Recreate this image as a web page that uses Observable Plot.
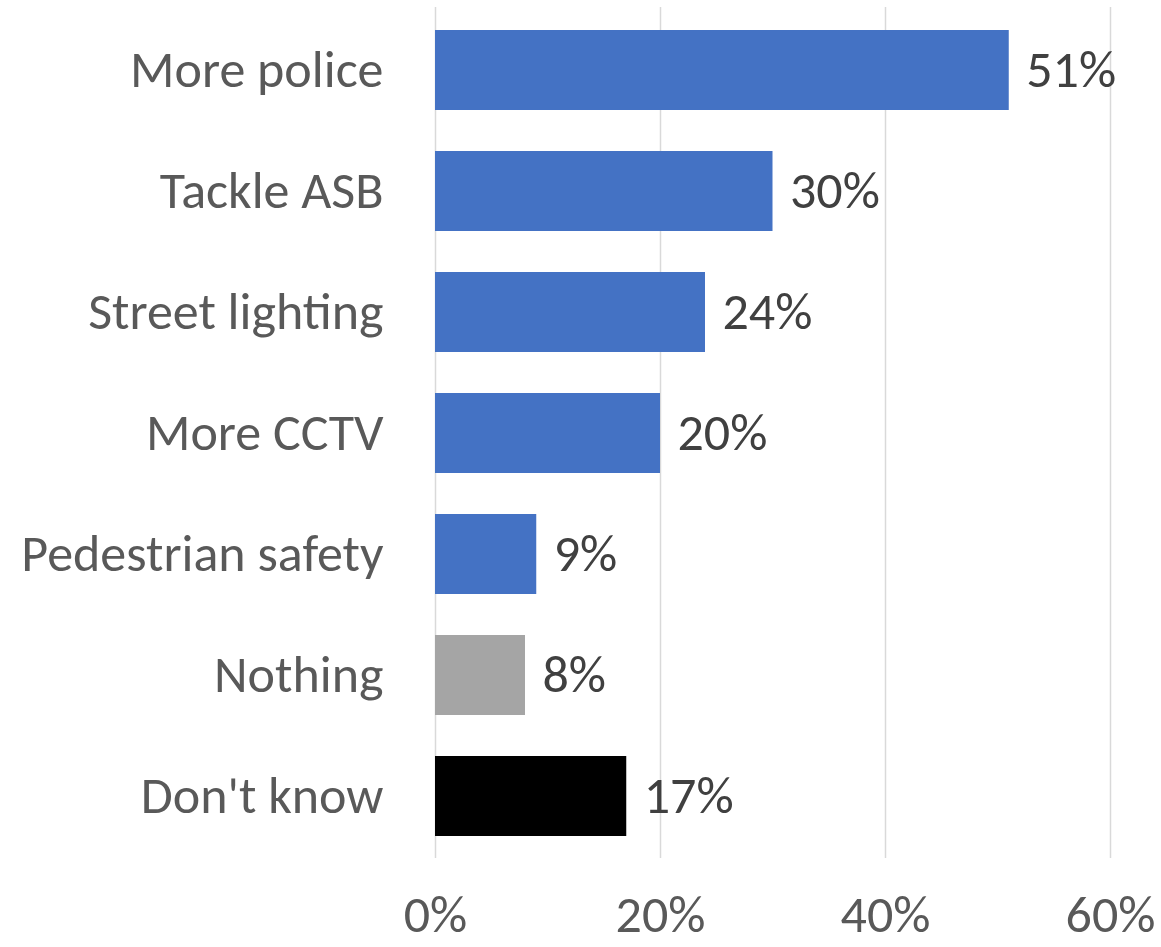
<!DOCTYPE html>
<html>
<head>
<meta charset="utf-8">
<script src="https://cdn.jsdelivr.net/npm/d3@7"></script>
<script src="https://cdn.jsdelivr.net/npm/@observablehq/plot@0.6"></script>
<style>
  html, body { margin: 0; padding: 0; background: #fff; }
  #chart svg { display: block; }
</style>
</head>
<body>
<div id="chart"></div>
<script>
const categories = ["More police", "Tackle ASB", "Street lighting", "More CCTV", "Pedestrian safety", "Nothing", "Don't know"];
const values = [51, 30, 24, 20, 9, 8, 17];
const groups = ["measure", "measure", "measure", "measure", "measure", "nothing", "dontknow"];
const xTicks = [0, 20, 40, 60];

const data = categories.map((c, i) => ({category: c, value: values[i], group: groups[i]}));

const font = "Calibri, Carlito, Lato, 'Liberation Sans', sans-serif";

const chart = Plot.plot({
  width: 1161,
  height: 947,
  marginLeft: 435,
  marginRight: 51,
  marginTop: 7,
  marginBottom: 89,
  style: {fontFamily: font, fontSize: "52px", background: "#fff", overflow: "visible"},
  x: {domain: [0, 60], ticks: xTicks, tickFormat: d => d + "%", label: null},
  y: {domain: categories, paddingInner: 0.34, paddingOuter: 0.17, label: null},
  color: {domain: ["measure", "nothing", "dontknow"], range: ["#4472C4", "#A5A5A5", "#000000"]},
  marks: [
    Plot.gridX(xTicks, {stroke: "#D9D9D9", strokeOpacity: 1, strokeWidth: 1.5}),
    Plot.barX(data, {x: "value", y: "category", fill: "group"}),
    Plot.text(data, {x: "value", y: "category", text: d => d.value + "%", textAnchor: "start", dx: 17, fill: "#404040", fontSize: 52}),
    Plot.axisY({tickSize: 0, tickPadding: 52, fontSize: 52, color: "#595959", label: null}),
    Plot.axisX(xTicks, {tickSize: 0, tickPadding: 37, fontSize: 52, color: "#595959", tickFormat: d => d + "%", label: null})
  ]
});
document.getElementById("chart").appendChild(chart);
</script>
</body>
</html>
